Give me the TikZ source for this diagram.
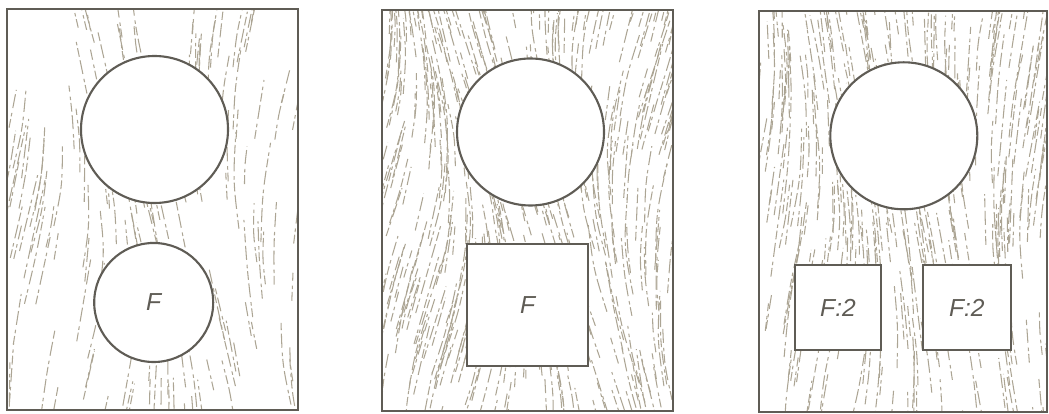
\documentclass[tikz,border=0pt]{standalone}
\usepackage{fontspec}
\setsansfont{Liberation Sans}

\definecolor{veta}{RGB}{172,165,148}
\definecolor{trazo}{RGB}{95,92,85}

\tikzset{
    tabla/.style={draw=trazo, line width=0.6pt},
    hueco/.style={draw=trazo, line width=0.6pt, fill=white, inner sep=0pt,
        text=trazo, font=\sffamily\itshape\fontsize{7}{8}\selectfont},
    grano/.style={veta, line width=0.3pt,
        dash pattern=on 2.5pt off 0.8pt on 1pt off 1.4pt on 4pt off 1pt}
}

% Vetas de la madera: semilla, numero de trazos, curvatura
\newcommand{\vetas}[3]{%
    \pgfmathsetseed{#1}
    \foreach \k in {1,...,#2}{
        \pgfmathsetmacro{\xa}{-0.1+3.1*rnd}
        \pgfmathsetmacro{\ya}{-0.4+4.5*rnd}
        \pgfmathsetmacro{\la}{0.25+0.75*rnd}
        \pgfmathsetmacro{\sa}{#3*sin(110*\xa+45*\ya)+0.06*rand}
        \pgfmathsetmacro{\sb}{#3*sin(110*\xa+45*(\ya+\la))+0.06*rand}
        \pgfmathsetmacro{\xb}{\xa+(\sa)*\la*0.5}
        \pgfmathsetmacro{\yb}{\ya+\la*0.5}
        \pgfmathsetmacro{\xc}{\xb+(\sb)*\la*0.5}
        \pgfmathsetmacro{\yc}{\ya+\la}
        \draw[grano] (\xa,\ya) .. controls (\xb,\yb) .. (\xc,\yc);
    }
}

\begin{document}
\begin{tikzpicture}
    \useasboundingbox (0,0) rectangle (10.49,4.13);

    % Tabla 1: agujero grande y agujero circular F
    \begin{scope}[xshift=0.07cm, yshift=0.03cm]
        \begin{scope}
            \clip (0,0) rectangle (2.91,4.01);
            \vetas{3}{150}{0.22}
        \end{scope}
        \node[hueco, circle, minimum size=1.47cm] (t1c) at (1.475,2.805) {};
        \node[hueco, circle, minimum size=1.19cm] (t1f) at (1.467,1.075) {F};
        \draw[tabla] (0,0) rectangle (2.91,4.01);
    \end{scope}

    % Tabla 2: agujero grande y agujero cuadrado F
    \begin{scope}[xshift=3.82cm, yshift=0.02cm]
        \begin{scope}
            \clip (0,0) rectangle (2.91,4.01);
            \vetas{11}{400}{0.30}
        \end{scope}
        \node[hueco, circle, minimum size=1.47cm] (t2c) at (1.485,2.79) {};
        \node[hueco, rectangle, minimum width=1.216cm, minimum height=1.214cm] (t2f) at (1.455,1.06) {F};
        \draw[tabla] (0,0) rectangle (2.91,4.01);
    \end{scope}

    % Tabla 3: agujero grande y dos cuadrados F:2
    \begin{scope}[xshift=7.59cm, yshift=0.01cm]
        \begin{scope}
            \clip (0,0) rectangle (2.88,4.01);
            \vetas{29}{320}{0.18}
        \end{scope}
        \node[hueco, circle, minimum size=1.47cm] (t3c) at (1.448,2.762) {};
        \node[hueco, rectangle, minimum width=0.86cm, minimum height=0.85cm] (t3fa) at (0.79,1.045) {F:2};
        \node[hueco, rectangle, minimum width=0.88cm, minimum height=0.85cm] (t3fb) at (2.078,1.045) {F:2};
        \draw[tabla] (0,0) rectangle (2.88,4.01);
    \end{scope}
\end{tikzpicture}
\end{document}
